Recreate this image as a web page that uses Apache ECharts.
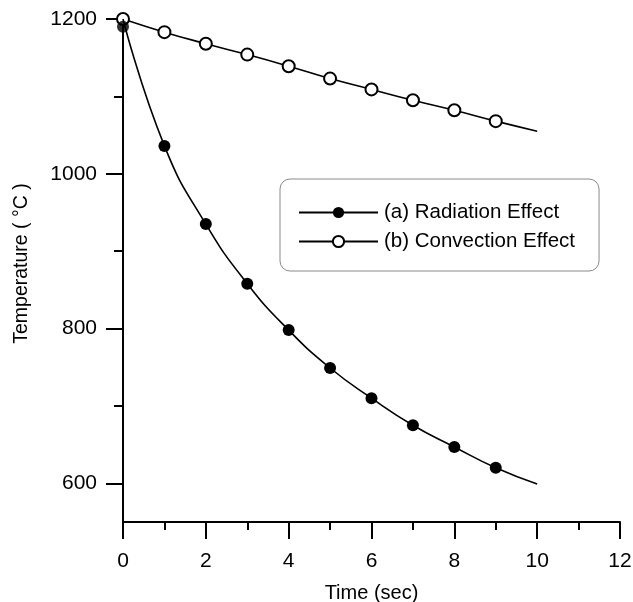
<!DOCTYPE html>
<html>
<head>
<meta charset="utf-8">
<script src="https://cdn.jsdelivr.net/npm/echarts@6/dist/echarts.min.js"></script>
<style>
html,body{margin:0;padding:0;background:#fff;}
#chart{width:633px;height:602px;}
</style>
</head>
<body>
<div id="chart"></div>
<script>
// Time (sec)
var timeValues = [0, 1, 2, 3, 4, 5, 6, 7, 8, 9, 10];
// (a) Radiation effect: fitted curve read at each time, and measured markers (t = 0..9)
var radiationCurve = [1200, 1036, 935, 858, 798, 749, 710, 675, 647, 620, 599];
var radiationMarkers = [1190, 1036, 935, 858, 798, 749, 710, 675, 647, 620];
// (b) Convection effect: curve and markers
var convectionCurve = [1200, 1183, 1168, 1154, 1139, 1123, 1109, 1095, 1082, 1068, 1055];
var convectionMarkers = [1200, 1183, 1168, 1154, 1139, 1123, 1109, 1095, 1082, 1068];
// Axis ticks
var yMajorTicks = [600, 800, 1000, 1200];
var yMinorTicks = [700, 900, 1100];
var seriesNames = ['(a) Radiation Effect', '(b) Convection Effect'];

var FONT = '"Liberation Sans", Arial, Helvetica, sans-serif';

function buildLineData(curve, markers) {
  return timeValues.map(function (t, i) {
    var item = { value: [t, curve[i]] };
    var hasMarker = i < markers.length && markers[i] === curve[i];
    if (!hasMarker) item.symbol = 'none';
    return item;
  });
}
function buildExtraMarkers(curve, markers) {
  var out = [];
  markers.forEach(function (v, i) {
    if (v !== curve[i]) out.push([timeValues[i], v]);
  });
  return out;
}

var chart = echarts.init(document.getElementById('chart'), null, { renderer: 'canvas' });
chart.setOption({
  animation: false,
  backgroundColor: '#fff',
  textStyle: { fontFamily: FONT, color: '#000' },
  grid: { left: 123, right: 13, top: 19, bottom: 80, containLabel: false, outerBoundsMode: 'none' },
  legend: {
    data: seriesNames,
    orient: 'vertical',
    left: 280,
    top: 179,
    padding: [23, 24, 19, 18],
    itemGap: 8,
    itemWidth: 79,
    itemHeight: 14,
    borderColor: '#8a8a8a',
    borderWidth: 1,
    borderRadius: 10,
    backgroundColor: '#fff',
    textStyle: { fontFamily: FONT, fontSize: 20.5, color: '#000', lineHeight: 20, padding: [0, 0, 0, 1] },
    selectedMode: false
  },
  xAxis: {
    type: 'value',
    min: 0,
    max: 12,
    interval: 2,
    name: 'Time (sec)',
    nameLocation: 'middle',
    nameGap: 61,
    nameTextStyle: { fontFamily: FONT, fontSize: 20, color: '#000' },
    axisLine: { show: true, onZero: false, lineStyle: { color: '#000', width: 2 } },
    axisTick: { show: true, inside: false, length: 17, lineStyle: { color: '#000', width: 2 } },
    minorTick: { show: true, splitNumber: 2, length: 8, lineStyle: { color: '#000', width: 2 } },
    axisLabel: { fontFamily: FONT, fontSize: 21, color: '#000', margin: 29 },
    splitLine: { show: false },
    minorSplitLine: { show: false }
  },
  yAxis: [
    {
      type: 'value',
      min: 550,
      max: 1200,
      position: 'left',
      name: 'Temperature ( °C )',
      nameLocation: 'middle',
      nameGap: 91,
      nameTextStyle: { fontFamily: FONT, fontSize: 19.5, color: '#000', padding: [0, 0, 0, 14] },
      axisLine: { show: true, onZero: false, lineStyle: { color: '#000', width: 2 } },
      axisTick: { show: true, inside: false, length: 17, customValues: yMajorTicks, lineStyle: { color: '#000', width: 2 } },
      axisLabel: {
        fontFamily: FONT, fontSize: 21, color: '#000', margin: 26, customValues: yMajorTicks,
        formatter: function (v) { return String(v); }
      },
      splitLine: { show: false }
    },
    {
      type: 'value',
      min: 550,
      max: 1200,
      position: 'left',
      axisLine: { show: false },
      axisTick: { show: true, inside: false, length: 9, customValues: yMinorTicks, lineStyle: { color: '#000', width: 2 } },
      axisLabel: { show: false },
      splitLine: { show: false }
    }
  ],
  series: [
    {
      name: seriesNames[0],
      type: 'line',
      data: buildLineData(radiationCurve, radiationMarkers),
      smooth: 0.5,
      symbol: 'circle',
      symbolSize: 12,
      showAllSymbol: true,
      lineStyle: { color: '#000', width: 1.6 },
      itemStyle: { color: '#000' },
      z: 3
    },
    {
      type: 'scatter',
      data: buildExtraMarkers(radiationCurve, radiationMarkers),
      symbol: 'circle',
      symbolSize: 12,
      itemStyle: { color: '#000' },
      z: 4
    },
    {
      name: seriesNames[1],
      type: 'line',
      data: buildLineData(convectionCurve, convectionMarkers),
      smooth: 0.5,
      symbol: 'emptyCircle',
      symbolSize: 12,
      showAllSymbol: true,
      lineStyle: { color: '#000', width: 1.6 },
      itemStyle: { color: '#000', borderWidth: 1.2 },
      z: 2
    }
  ]
});
</script>
</body>
</html>
